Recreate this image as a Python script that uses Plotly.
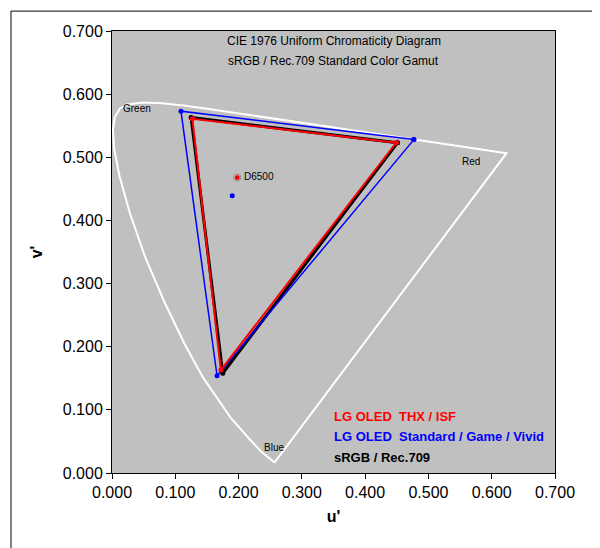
import plotly.graph_objects as go

locus_u = [0.2568,0.2347,0.2161,0.1877,0.1440,0.1147,0.0828,0.0521,0.0282,0.0119,0.0035,0.0014,0.0046,0.0123,0.0231,0.0501,0.0792,0.1127,0.1531,0.2026,0.2623,0.3315,0.4035,0.5202,0.6234,0.2568]
locus_v = [0.0165,0.0350,0.0550,0.0871,0.1510,0.2044,0.2708,0.3427,0.4117,0.4699,0.5130,0.5432,0.5640,0.5770,0.5837,0.5868,0.5856,0.5821,0.5766,0.5694,0.5605,0.5501,0.5393,0.5219,0.5065,0.0165]

srgb_u = [0.451, 0.125, 0.175, 0.451]
srgb_v = [0.523, 0.563, 0.158, 0.523]
thx_u = [0.449, 0.127, 0.172, 0.449]
thx_v = [0.523, 0.561, 0.163, 0.523]
std_u = [0.477, 0.109, 0.166, 0.477]
std_v = [0.528, 0.573, 0.154, 0.528]
d65_u, d65_v = [0.198], [0.468]
std_w_u, std_w_v = [0.190], [0.439]

fig = go.Figure()
fig.add_trace(go.Scatter(x=locus_u, y=locus_v, mode="lines", line=dict(color="white", width=2), hoverinfo="skip"))
fig.add_trace(go.Scatter(x=srgb_u, y=srgb_v, mode="lines+markers", line=dict(color="black", width=3), marker=dict(size=5, color="black")))
fig.add_trace(go.Scatter(x=std_u, y=std_v, mode="lines+markers", line=dict(color="blue", width=1.5), marker=dict(size=5, color="blue")))
fig.add_trace(go.Scatter(x=thx_u, y=thx_v, mode="lines+markers", line=dict(color="red", width=2), marker=dict(size=5, color="red")))
fig.add_trace(go.Scatter(x=d65_u, y=d65_v, mode="markers", marker=dict(size=7, color="white", line=dict(color="gray", width=1))))
fig.add_trace(go.Scatter(x=d65_u, y=d65_v, mode="markers", marker=dict(size=5, color="red")))
fig.add_trace(go.Scatter(x=std_w_u, y=std_w_v, mode="markers", marker=dict(size=5, color="blue")))

ann = dict(font=dict(family="Arial", size=10, color="black"), showarrow=False)
fig.add_annotation(x=0.205, y=0.470, text="D6500", xanchor="left", **ann)
fig.add_annotation(x=0.040, y=0.578, text="Green", **ann)
fig.add_annotation(x=0.567, y=0.493, text="Red", **ann)
fig.add_annotation(x=0.256, y=0.040, text="Blue", **ann)
fig.add_annotation(x=0.35, y=0.684, text="CIE 1976 Uniform Chromaticity Diagram", font=dict(family="Arial", size=12, color="black"), showarrow=False)
fig.add_annotation(x=0.35, y=0.652, text="sRGB / Rec.709 Standard Color Gamut", font=dict(family="Arial", size=12, color="black"), showarrow=False)
lf = dict(family="Arial", size=13)
fig.add_annotation(x=0.348, y=0.090, text="<b>LG OLED  THX / ISF</b>", xanchor="left", font=dict(color="red", **lf), showarrow=False)
fig.add_annotation(x=0.348, y=0.058, text="<b>LG OLED  Standard / Game / Vivid</b>", xanchor="left", font=dict(color="blue", **lf), showarrow=False)
fig.add_annotation(x=0.348, y=0.024, text="<b>sRGB / Rec.709</b>", xanchor="left", font=dict(color="black", **lf), showarrow=False)

axis = dict(range=[0, 0.7], dtick=0.1, tickformat=".3f", showgrid=False, zeroline=False,
            ticks="outside", ticklen=5, tickcolor="black", showline=True, linecolor="black", mirror=True,
            tickfont=dict(family="Arial", size=16, color="black"))
fig.update_layout(
    width=600, height=548, showlegend=False,
    paper_bgcolor="white", plot_bgcolor="#c0c0c0",
    margin=dict(l=104, r=53, t=23, b=83),
    xaxis=dict(title=dict(text="<b>u'</b>", font=dict(family="Arial", size=16, color="black"), standoff=10), **axis),
    yaxis=dict(title=dict(text="<b>v'</b>", font=dict(family="Arial", size=16, color="black"), standoff=16), **axis),
    shapes=[dict(type="rect", xref="paper", yref="paper", x0=-0.228, x1=1.108, y0=-0.178, y1=1.045, line=dict(color="black", width=1))],
)
fig.write_html("out.html")
